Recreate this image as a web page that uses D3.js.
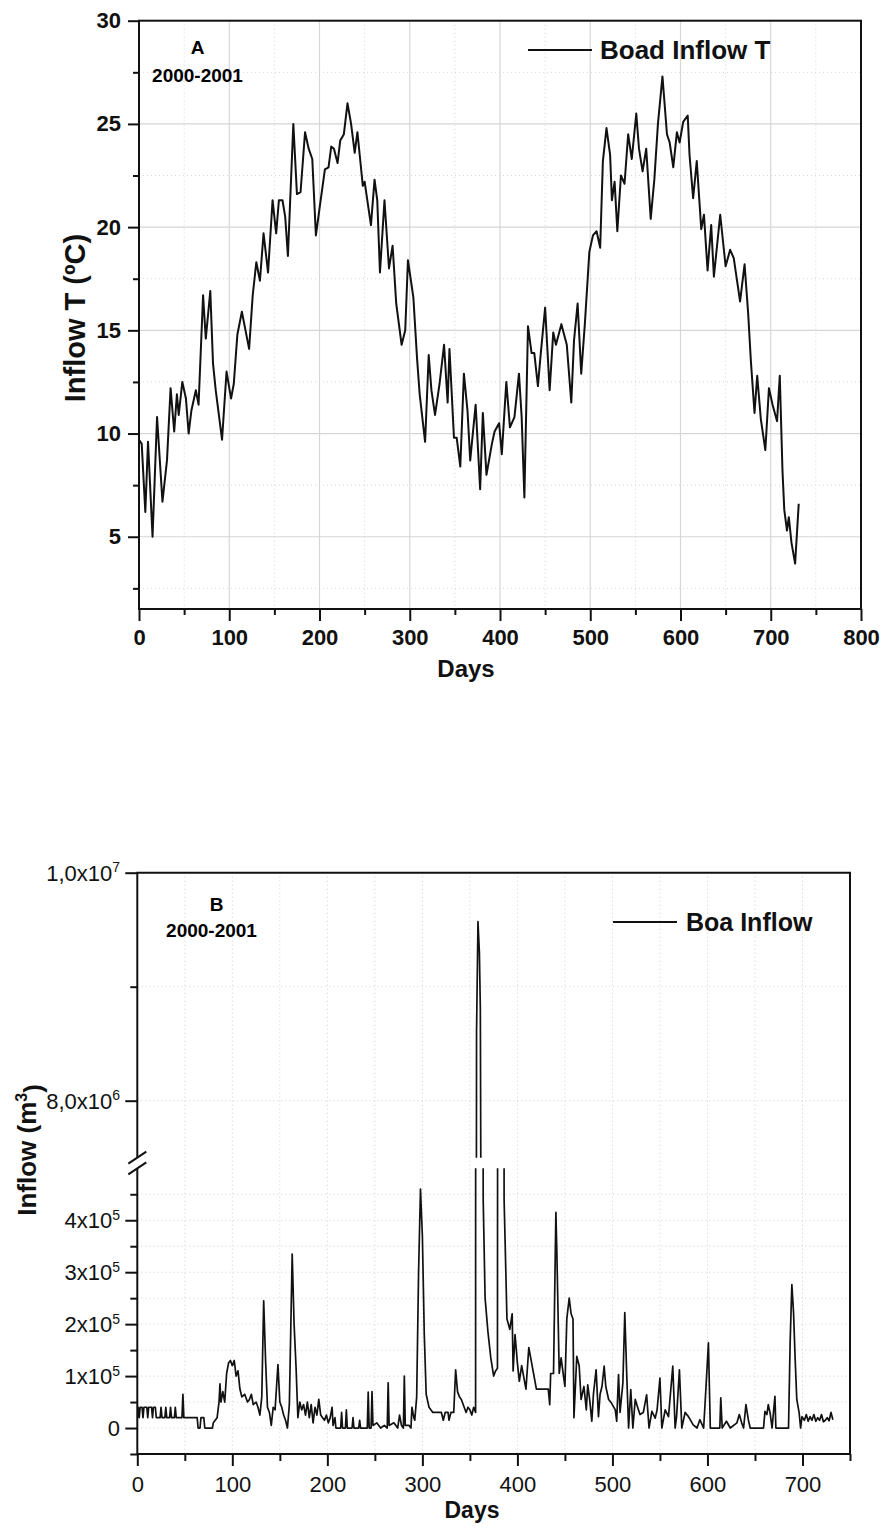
<!DOCTYPE html>
<html>
<head>
<meta charset="utf-8">
<script src="https://cdnjs.cloudflare.com/ajax/libs/d3/7.8.5/d3.min.js"></script>
<style>
  body { margin: 0; background: #fff; }
  svg { display: block; font-family: "Liberation Sans", Arial, sans-serif; }
</style>
</head>
<body>
<div id="chart"></div>
<script>
// ---- panel A : Boa inflow temperature (ºC) ----
let tempDays = [0, 3, 7, 10, 15, 20, 26, 31, 35, 39, 42, 44, 48, 52, 55, 58, 63, 66, 71, 74,
  79, 82, 85, 92, 97, 102, 105, 109, 114, 118, 122, 126, 130, 134, 138, 143, 148, 152, 155, 159,
  162, 165, 171, 175, 179, 184, 188, 192, 196, 200, 206, 210, 213, 216, 220, 223, 227, 231, 235, 239,
  242, 245, 248, 250, 253, 257, 261, 264, 267, 272, 277, 281, 285, 291, 295, 298, 304, 308, 311, 317,
  321, 324, 328, 333, 338, 342, 344, 349, 352, 356, 360, 364, 367, 373, 378, 381, 385, 391, 394, 399,
  402, 407, 411, 416, 421, 424, 427, 431, 435, 438, 442, 445, 450, 455, 459, 462, 468, 474, 479, 482,
  486, 490, 494, 499, 503, 507, 511, 514, 518, 522, 524, 527, 530, 534, 538, 542, 546, 551, 554, 558,
  562, 567, 571, 575, 580, 585, 588, 592, 596, 599, 603, 608, 610, 614, 618, 623, 626, 630, 634, 637,
  644, 650, 655, 659, 666, 671, 675, 678, 682, 685, 689, 694, 698, 702, 707, 710, 713, 715, 718, 720,
  723, 727, 731];
let tempValues = [9.7, 9.5, 6.2, 9.6, 5.0, 10.8, 6.7, 8.7, 12.2, 10.1, 11.9, 10.9, 12.5, 11.7, 10.0, 11.1, 12.1, 11.4, 16.7, 14.6,
  16.9, 13.4, 12.1, 9.7, 13.0, 11.7, 12.4, 14.8, 15.9, 15.0, 14.1, 16.7, 18.3, 17.4, 19.7, 17.8, 21.3, 19.7, 21.3, 21.3,
  20.5, 18.6, 25.0, 21.6, 21.7, 24.6, 23.8, 23.3, 19.6, 20.9, 22.8, 22.9, 23.9, 23.8, 23.1, 24.2, 24.5, 26.0, 25.0, 23.6,
  24.6, 23.3, 22.0, 22.2, 21.3, 20.1, 22.3, 21.3, 17.8, 21.3, 18.0, 19.1, 16.3, 14.3, 15.0, 18.4, 16.6, 13.7, 11.9, 9.6,
  13.8, 12.1, 10.9, 12.4, 14.3, 11.5, 14.1, 9.8, 9.8, 8.4, 12.9, 11.1, 8.7, 11.4, 7.3, 11.0, 8.0, 9.5, 10.1, 10.5,
  9.0, 12.5, 10.3, 10.8, 12.9, 10.8, 6.9, 15.2, 13.9, 13.9, 12.3, 13.8, 16.1, 12.1, 14.9, 14.3, 15.3, 14.3, 11.5, 14.5,
  16.3, 12.9, 15.3, 18.8, 19.6, 19.8, 19.0, 23.2, 24.8, 23.5, 21.3, 22.2, 19.8, 22.5, 22.1, 24.5, 23.3, 25.5, 23.8, 22.7,
  23.8, 20.4, 22.3, 25.0, 27.3, 24.5, 24.1, 22.9, 24.6, 24.1, 25.1, 25.4, 23.5, 21.4, 23.2, 19.9, 20.6, 17.9, 20.1, 17.6,
  20.6, 18.1, 18.9, 18.5, 16.4, 18.2, 15.8, 13.5, 11.0, 12.8, 10.7, 9.2, 12.2, 11.4, 10.6, 12.8, 8.2, 6.3, 5.3, 5.95,
  4.7, 3.7, 6.6];

let tempTicksX = [0, 100, 200, 300, 400, 500, 600, 700, 800];
let tempMinorX = [50, 150, 250, 350, 450, 550, 650, 750];
let tempTicksY = [5, 10, 15, 20, 25, 30];
let tempMinorY = [2.5, 7.5, 12.5, 17.5, 22.5, 27.5];

// ---- panel B : Boa inflow volume (m3) ----
let inflowDays = [0, 1, 2, 3, 5, 6, 7, 10, 11, 12, 15, 16, 17, 19, 20, 24, 25, 26, 29, 30,
  31, 34, 35, 36, 39, 40, 41, 47, 48, 49, 63, 64, 66, 67, 70, 71, 79, 80, 84, 86,
  87, 88, 90, 92, 94, 96, 98, 100, 102, 104, 106, 108, 110, 113, 116, 118, 120, 122, 125, 127,
  129, 131, 133, 135, 137, 139, 141, 143, 145, 148, 150, 152, 154, 156, 158, 160, 163, 165, 167, 169,
  171, 173, 175, 177, 179, 181, 183, 185, 187, 189, 191, 193, 195, 197, 199, 201, 203, 205, 206, 208,
  209, 214, 215, 216, 219, 220, 221, 226, 227, 228, 233, 234, 235, 242, 243, 244, 246, 247, 248, 252,
  256, 260, 263, 264, 265, 270, 274, 276, 278, 280, 281, 282, 286, 288, 289, 291, 292, 294, 296, 298,
  300, 302, 304, 307, 311, 320, 322, 324, 327, 328, 330, 333, 335, 337, 339, 341, 344, 346, 348, 350,
  352, 354, 356, 357, 358.5, 360, 361, 364, 366, 369, 372, 375, 377, 379, 380, 385, 386, 389, 392, 394.5,
  395.5, 397.5, 400, 402, 404.5, 406.5, 409, 412, 415, 417, 420, 432.5, 434, 435, 438, 440.5, 441.5, 444, 446, 448.5,
  450, 452, 454.5, 456.5, 458.5, 459.5, 462.5, 465, 467, 470, 472.5, 474, 476, 478.3, 480, 482.8, 485.3, 487, 489, 491.3,
  493, 496, 499, 503, 504.5, 506.4, 508, 511, 513, 515, 517, 519.3, 521.5, 524, 526.5, 529, 532.5, 536, 538.5, 541.5,
  545, 547, 550, 552, 555.5, 559, 563.5, 566, 567.5, 570.5, 573, 576.5, 580, 585, 589, 592, 596, 598.5, 601, 603,
  613, 614, 615.5, 620, 624, 631, 633.5, 636, 638, 640.5, 643, 645, 659, 660.5, 662.5, 664, 666, 668, 671, 672,
  685.3, 687, 688.8, 690.6, 692.3, 694, 696.5, 698, 699.5, 702, 704, 706, 708, 710, 712, 714, 716, 718, 720, 722,
  724, 726, 728, 730, 732];
let inflowValues = [2e4, 4e4, 2e4, 4e4, 4e4, 2e4, 4e4, 4e4, 2e4, 4e4, 4e4, 2e4, 4e4, 4e4, 2e4, 2e4, 4e4, 2e4, 2e4, 4e4,
  2e4, 2e4, 4e4, 2e4, 2e4, 4e4, 2e4, 2e4, 6.5e4, 2e4, 2e4, 0, 0, 2e4, 2e4, 0, 0, 1e4, 2e4, 5e4,
  8.5e4, 5e4, 7e4, 5e4, 1.05e5, 1.25e5, 1.3e5, 1.2e5, 1.3e5, 1.0e5, 1.1e5, 7.5e4, 6e4, 6.5e4, 5e4, 5.5e4, 6.5e4, 4.5e4, 5e4, 4e4,
  2.5e4, 6e4, 2.45e5, 1.3e5, 4e4, 3e4, 5e3, 4e4, 3.5e4, 1.22e5, 5e4, 4e4, 2.5e4, 1.5e4, 0, 4.5e4, 3.35e5, 2e5, 1.2e5, 2e4,
  5e4, 3.5e4, 4.5e4, 2.5e4, 5e4, 2e4, 4.5e4, 1e4, 4e4, 2.5e4, 5.5e4, 2.5e4, 2e4, 1.5e4, 2.5e4, 1e4, 2e4, 4e4, 5e3, 2e4,
  0, 0, 3e4, 0, 0, 3.5e4, 0, 0, 2e4, 0, 0, 1.5e4, 0, 0, 6.9e4, 0, 0, 7e4, 5e3, 1e4,
  0, 5e3, 0, 8.7e4, 5e3, 1e4, 0, 2.5e4, 5e3, 0, 1.0e5, 5e3, 5e3, 0, 4e4, 2e4, 1.5e4, 6e4, 3e5, 4.6e5,
  3.7e5, 1.8e5, 6.5e4, 4e4, 3e4, 3e4, 1.5e4, 3e4, 3e4, 1.5e4, 3e4, 3e4, 1.12e5, 7e4, 6e4, 5.5e4, 4e4, 3e4, 4e4, 3.5e4,
  2.5e4, 4e4, 3e4, 8.6e6, 9.57e6, 9.3e6, 8.8e6, 4.4e5, 2.5e5, 1.85e5, 1.35e5, 1.0e5, 1.1e5, 1.15e5, 3e6, 3e6, 4.4e5, 2.1e5, 1.9e5, 2.2e5,
  1.1e5, 1.8e5, 1.25e5, 9e4, 1.2e5, 1.0e5, 7.5e4, 1.55e5, 1.25e5, 1.05e5, 7.5e4, 7.5e4, 4.5e4, 1.05e5, 1.05e5, 4.15e5, 3.4e5, 1.05e5, 1.35e5, 1.0e5,
  8e4, 2.1e5, 2.5e5, 2.2e5, 2.1e5, 2e4, 1.38e5, 1.2e5, 5.5e4, 8e4, 3.5e4, 8.3e4, 5.5e4, 1.3e4, 6.5e4, 1.12e5, 2.2e4, 6.5e4, 8e4, 1.19e5,
  8e4, 5.5e4, 4.8e4, 3.5e4, 1.3e4, 1.03e5, 3e4, 8.7e4, 2.22e5, 1.06e5, 0, 7.4e4, 0, 5.5e4, 4e4, 2.6e4, 3e4, 6.4e4, 0, 3.2e4,
  1.9e4, 3.5e4, 9.6e4, 0, 3.5e4, 2.2e4, 1.19e5, 0, 2.2e4, 1.12e5, 0, 3e4, 2.2e4, 6e3, 0, 1.6e4, 0, 8e4, 1.64e5, 0,
  0, 5.8e4, 0, 1.3e4, 0, 1e4, 2.6e4, 1e4, 0, 4.5e4, 1.6e4, 0, 0, 3.2e4, 2.6e4, 4.5e4, 2.8e4, 0, 6.1e4, 0,
  0, 1.64e5, 2.76e5, 2.22e5, 1.32e5, 5.5e4, 2.9e4, 0, 2.2e4, 1.5e4, 2.6e4, 1.3e4, 2.2e4, 1.5e4, 2.6e4, 1.3e4, 2e4, 1.5e4, 2.6e4, 1.2e4,
  1.5e4, 2e4, 1.4e4, 3e4, 1.6e4];

let inflowTicksX = [0, 100, 200, 300, 400, 500, 600, 700];
let inflowMinorX = [50, 150, 250, 350, 450, 550, 650, 750];
let lowTicks = [0, 1e5, 2e5, 3e5, 4e5];
let lowLabels = [['0', ''], ['1x10', '5'], ['2x10', '5'], ['3x10', '5'], ['4x10', '5']];
let lowMinor = [-5e4, 5e4, 1.5e5, 2.5e5, 3.5e5, 4.5e5];
let highTicks = [8e6, 1e7];
let highLabels = [['8,0x10', '6'], ['1,0x10', '7']];
let highMinor = [9e6];

let width = 884, height = 1528;
let ink = '#111';

let svg = d3.select('#chart').append('svg')
  .attr('width', width)
  .attr('height', height);

// ================= panel A =================
let a = {left: 139, right: 861, top: 20.7, bottom: 609};
let xA = d3.scaleLinear().domain([0, 800]).range([a.left, a.right]);
let yA = d3.scaleLinear().domain([1.5, 30]).range([a.bottom, a.top]);

let gA = svg.append('g');

// grid: solid at major ticks, dotted at minor ticks
gA.selectAll('.gxm').data(tempMinorX).enter().append('line')
  .attr('x1', d => xA(d)).attr('x2', d => xA(d))
  .attr('y1', a.top).attr('y2', a.bottom)
  .attr('stroke', '#d4d4d4').attr('stroke-dasharray', '1,3');
gA.selectAll('.gym').data(tempMinorY).enter().append('line')
  .attr('x1', a.left).attr('x2', a.right)
  .attr('y1', d => yA(d)).attr('y2', d => yA(d))
  .attr('stroke', '#d4d4d4').attr('stroke-dasharray', '1,3');
gA.selectAll('.gx').data(tempTicksX.slice(1, -1)).enter().append('line')
  .attr('x1', d => xA(d)).attr('x2', d => xA(d))
  .attr('y1', a.top).attr('y2', a.bottom)
  .attr('stroke', '#d6d6d6').attr('stroke-width', 1.2);
gA.selectAll('.gy').data(tempTicksY.slice(0, -1)).enter().append('line')
  .attr('x1', a.left).attr('x2', a.right)
  .attr('y1', d => yA(d)).attr('y2', d => yA(d))
  .attr('stroke', '#d6d6d6').attr('stroke-width', 1.2);

// data line
let lineA = d3.line()
  .x(d => xA(d[0]))
  .y(d => yA(d[1]));

gA.append('path')
  .datum(d3.zip(tempDays, tempValues))
  .attr('d', lineA)
  .attr('fill', 'none')
  .attr('stroke', ink)
  .attr('stroke-width', 2)
  .attr('stroke-linejoin', 'round');

// axes
function styleAxis(g, bold) {
  g.select('.domain').remove();
  g.selectAll('.tick line').attr('stroke', ink).attr('stroke-width', 2);
  g.selectAll('.tick text')
    .attr('fill', ink)
    .style('font-size', '22px')
    .style('font-weight', bold ? 'bold' : 'normal');
}

gA.append('g')
  .attr('transform', `translate(0, ${a.bottom})`)
  .call(d3.axisBottom(xA).tickValues(tempTicksX).tickSize(12).tickPadding(8).tickSizeOuter(0))
  .call(g => styleAxis(g, true));
gA.append('g')
  .attr('transform', `translate(0, ${a.bottom})`)
  .call(d3.axisBottom(xA).tickValues(tempMinorX).tickSize(6).tickFormat(''))
  .call(g => styleAxis(g, true));
gA.append('g')
  .attr('transform', `translate(${a.left}, 0)`)
  .call(d3.axisLeft(yA).tickValues(tempTicksY).tickSize(11).tickPadding(7).tickSizeOuter(0))
  .call(g => styleAxis(g, true));
gA.append('g')
  .attr('transform', `translate(${a.left}, 0)`)
  .call(d3.axisLeft(yA).tickValues(tempMinorY).tickSize(6).tickFormat(''))
  .call(g => styleAxis(g, true));

// frame
gA.append('rect')
  .attr('x', a.left).attr('y', a.top)
  .attr('width', a.right - a.left).attr('height', a.bottom - a.top)
  .attr('fill', 'none').attr('stroke', ink).attr('stroke-width', 2);

// titles
gA.append('text')
  .attr('x', 466).attr('y', 677)
  .attr('text-anchor', 'middle')
  .style('font-size', '24px').style('font-weight', 'bold')
  .attr('fill', ink)
  .text('Days');
gA.append('text')
  .attr('transform', 'translate(85, 318) rotate(-90)')
  .attr('text-anchor', 'middle')
  .style('font-size', '29px').style('font-weight', 'bold')
  .attr('fill', ink)
  .text('Inflow T (ºC)');

// panel tag
gA.append('text')
  .attr('x', 197.5).attr('y', 54)
  .attr('text-anchor', 'middle')
  .style('font-size', '19px').style('font-weight', 'bold')
  .text('A');
gA.append('text')
  .attr('x', 197.5).attr('y', 81.5)
  .attr('text-anchor', 'middle')
  .style('font-size', '19px').style('font-weight', 'bold')
  .text('2000-2001');

// legend
gA.append('line')
  .attr('x1', 528).attr('x2', 592).attr('y1', 50).attr('y2', 50)
  .attr('stroke', ink).attr('stroke-width', 2);
gA.append('text')
  .attr('x', 600).attr('y', 58.5)
  .style('font-size', '26px').style('font-weight', 'bold')
  .attr('fill', ink)
  .text('Boad Inflow T');

// ================= panel B =================
let b = {left: 137.3, right: 850, top: 872.7, bottom: 1454, gapTop: 1157.7, gapBottom: 1168.3};
let xB = d3.scaleLinear().domain([0, 750]).range([b.left, b.right]);
let yLow = d3.scaleLinear().domain([-5e4, 5e5]).range([b.bottom, b.gapBottom]);
let yHigh = d3.scaleLinear().domain([7.5e6, 1e7]).range([b.gapTop, b.top]);

let gB = svg.append('g');

// dotted grid
gB.selectAll('.bgx').data(inflowTicksX.slice(1).concat(inflowMinorX.slice(0, -1))).enter().append('line')
  .attr('x1', d => xB(d)).attr('x2', d => xB(d))
  .attr('y1', b.top).attr('y2', b.bottom)
  .attr('stroke', '#cfcfcf').attr('stroke-dasharray', '1,3');
gB.selectAll('.bgyl').data(lowTicks.concat(lowMinor.slice(1))).enter().append('line')
  .attr('x1', b.left).attr('x2', b.right)
  .attr('y1', d => yLow(d)).attr('y2', d => yLow(d))
  .attr('stroke', '#cfcfcf').attr('stroke-dasharray', '1,3');
gB.selectAll('.bgyh').data([8e6, 9e6]).enter().append('line')
  .attr('x1', b.left).attr('x2', b.right)
  .attr('y1', d => yHigh(d)).attr('y2', d => yHigh(d))
  .attr('stroke', '#cfcfcf').attr('stroke-dasharray', '1,3');

// clip paths for the two parts of the broken axis
let defs = svg.append('defs');
defs.append('clipPath').attr('id', 'clipLow')
  .append('rect')
  .attr('x', b.left).attr('y', b.gapBottom)
  .attr('width', b.right - b.left).attr('height', b.bottom - b.gapBottom);
defs.append('clipPath').attr('id', 'clipHigh')
  .append('rect')
  .attr('x', b.left).attr('y', b.top)
  .attr('width', b.right - b.left).attr('height', b.gapTop - b.top);

let inflowData = d3.zip(inflowDays, inflowValues);

gB.append('path')
  .datum(inflowData)
  .attr('clip-path', 'url(#clipLow)')
  .attr('d', d3.line().x(d => xB(d[0])).y(d => yLow(d[1])))
  .attr('fill', 'none').attr('stroke', ink).attr('stroke-width', 1.7)
  .attr('stroke-linejoin', 'round');
gB.append('path')
  .datum(inflowData)
  .attr('clip-path', 'url(#clipHigh)')
  .attr('d', d3.line().x(d => xB(d[0])).y(d => yHigh(d[1])))
  .attr('fill', 'none').attr('stroke', ink).attr('stroke-width', 1.7)
  .attr('stroke-linejoin', 'round');

// x axis
gB.append('g')
  .attr('transform', `translate(0, ${b.bottom})`)
  .call(d3.axisBottom(xB).tickValues(inflowTicksX).tickSize(12).tickPadding(10).tickSizeOuter(0))
  .call(g => styleAxis(g, false));
gB.append('g')
  .attr('transform', `translate(0, ${b.bottom})`)
  .call(d3.axisBottom(xB).tickValues(inflowMinorX).tickSize(7).tickFormat(''))
  .call(g => styleAxis(g, false));

// y ticks, lower and upper part
[[yLow, lowTicks, lowMinor], [yHigh, highTicks, highMinor]].forEach(([sc, major, minor]) => {
  gB.append('g')
    .attr('transform', `translate(${b.left}, 0)`)
    .call(d3.axisLeft(sc).tickValues(major).tickSize(12).tickFormat(''))
    .call(g => styleAxis(g, false));
  gB.append('g')
    .attr('transform', `translate(${b.left}, 0)`)
    .call(d3.axisLeft(sc).tickValues(minor).tickSize(7).tickFormat(''))
    .call(g => styleAxis(g, false));
});

// y tick labels with powers of ten
function powLabels(sc, ticks, labels) {
  let t = gB.selectAll(null).data(ticks).enter().append('text')
    .attr('x', 120)
    .attr('y', d => sc(d) + 8)
    .attr('text-anchor', 'end')
    .attr('fill', ink)
    .style('font-size', '22px');
  t.append('tspan').text((d, i) => labels[i][0]);
  t.append('tspan')
    .attr('dy', '-0.6em')
    .style('font-size', '14px')
    .text((d, i) => labels[i][1]);
}
powLabels(yLow, lowTicks, lowLabels);
powLabels(yHigh, highTicks, highLabels);

// frame: left axis is broken, the rest continuous
gB.append('path')
  .attr('d', `M${b.left},${b.gapTop}V${b.top}H${b.right}V${b.bottom}H${b.left}V${b.gapBottom}`)
  .attr('fill', 'none').attr('stroke', ink).attr('stroke-width', 2);

// break marks
gB.selectAll('.brk').data([b.gapTop, b.gapBottom]).enter().append('line')
  .attr('x1', b.left - 9).attr('x2', b.left + 9)
  .attr('y1', d => d + 6).attr('y2', d => d - 6)
  .attr('stroke', ink).attr('stroke-width', 2);

// titles
gB.append('text')
  .attr('x', 472).attr('y', 1518)
  .attr('text-anchor', 'middle')
  .style('font-size', '23px').style('font-weight', 'bold')
  .attr('fill', ink)
  .text('Days');
let yt = gB.append('text')
  .attr('transform', 'translate(36, 1150) rotate(-90)')
  .attr('text-anchor', 'middle')
  .style('font-size', '26px').style('font-weight', 'bold')
  .attr('fill', ink);
yt.append('tspan').text('Inflow (m');
yt.append('tspan').attr('dy', '-0.55em').style('font-size', '16px').text('3');
yt.append('tspan').attr('dy', '0.55em').text(')');

// panel tag
gB.append('text')
  .attr('x', 216.5).attr('y', 910.5)
  .attr('text-anchor', 'middle')
  .style('font-size', '19px').style('font-weight', 'bold')
  .text('B');
gB.append('text')
  .attr('x', 211.5).attr('y', 936.5)
  .attr('text-anchor', 'middle')
  .style('font-size', '19px').style('font-weight', 'bold')
  .text('2000-2001');

// legend
gB.append('line')
  .attr('x1', 613).attr('x2', 677).attr('y1', 922).attr('y2', 922)
  .attr('stroke', ink).attr('stroke-width', 2);
gB.append('text')
  .attr('x', 686).attr('y', 931)
  .style('font-size', '25px').style('font-weight', 'bold')
  .attr('fill', ink)
  .text('Boa Inflow');
</script>
</body>
</html>
